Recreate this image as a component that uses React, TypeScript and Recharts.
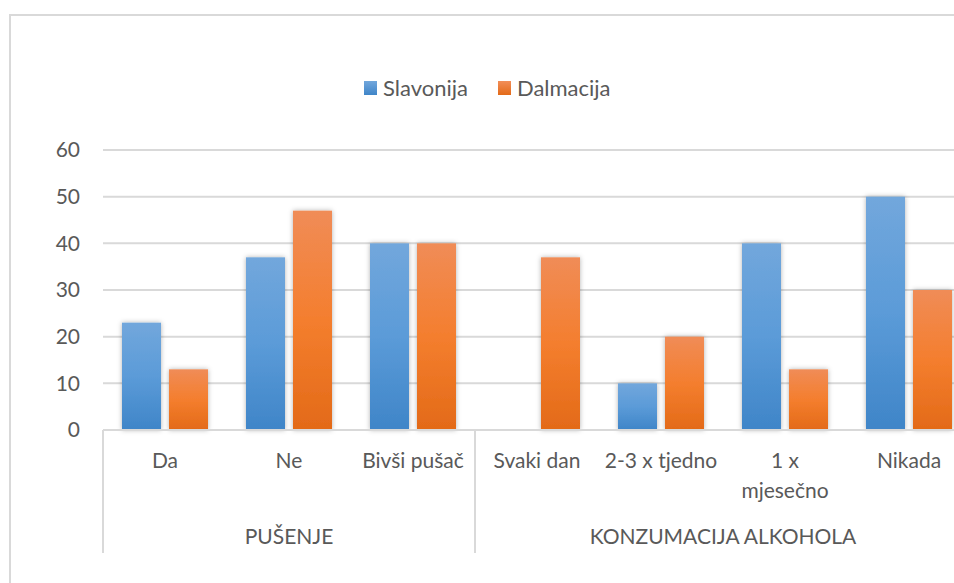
import { Bar, BarChart, CartesianGrid, XAxis, YAxis } from 'recharts'

const categories = ['Da', 'Ne', 'Bivši pušač', 'Svaki dan', '2-3 x tjedno', '1 x mjesečno', 'Nikada']
const tickLabels = ['Da', 'Ne', 'Bivši pušač', 'Svaki dan', '2-3 x tjedno', '1 x\nmjesečno', 'Nikada']
const groups = [
  'PUŠENJE',
  'PUŠENJE',
  'PUŠENJE',
  'KONZUMACIJA ALKOHOLA',
  'KONZUMACIJA ALKOHOLA',
  'KONZUMACIJA ALKOHOLA',
  'KONZUMACIJA ALKOHOLA',
]
const slavonija = [23, 37, 40, 0, 10, 40, 50]
const dalmacija = [13, 47, 40, 37, 20, 13, 30]
const yTicks = [0, 10, 20, 30, 40, 50, 60]

const chartData = categories.map((name, i) => ({
  name,
  Slavonija: slavonija[i],
  Dalmacija: dalmacija[i],
}))

const FONT = 'Lato, "Open Sans", sans-serif'
const TEXT = '#595959'
const GRID = '#d9d9d9'
const CHART_W = 1000
const PLOT_LEFT = 103
const PLOT_RIGHT = 971
const BAND = (PLOT_RIGHT - PLOT_LEFT) / categories.length

function CategoryTick(props: any) {
  const { x, y, index } = props
  const lines = tickLabels[index].split('\n')
  const left = x - BAND / 2
  const first = groups.indexOf(groups[index])
  const last = groups.lastIndexOf(groups[index])
  const groupCenter = left - (index - first) * BAND + ((last - first + 1) * BAND) / 2
  return (
    <g>
      {lines.map((line, i) => (
        <text
          key={i}
          x={x}
          y={y + 38 + i * 30}
          textAnchor="middle"
          fontFamily={FONT}
          fontSize={21}
          fill={TEXT}
        >
          {line}
        </text>
      ))}
      {index === first && (
        <>
          <line x1={left} x2={left} y1={y} y2={y + 123} stroke={GRID} strokeWidth={2} />
          <text
            x={groupCenter}
            y={y + 114}
            textAnchor="middle"
            fontFamily={FONT}
            fontSize={21}
            fill={TEXT}
          >
            {groups[index]}
          </text>
        </>
      )}
      {index === last && (
        <line x1={left + BAND} x2={left + BAND} y1={y} y2={y + 123} stroke={GRID} strokeWidth={2} />
      )}
    </g>
  )
}

function BarShape(props: any) {
  const { x, y, width, height, fill } = props
  if (!height || height <= 0) return null
  return <rect x={x} y={y} width={width} height={height} fill={fill} filter="url(#barShadow)" />
}

function LegendItem({ label, from, to }: { label: string; from: string; to: string }) {
  return (
    <div style={{ display: 'flex', alignItems: 'center', marginRight: 30 }}>
      <span
        style={{
          display: 'inline-block',
          width: 13,
          height: 14,
          background: `linear-gradient(${from}, ${to})`,
          marginRight: 6,
        }}
      />
      <span>{label}</span>
    </div>
  )
}

export default function App() {
  return (
    <div
      style={{
        position: 'fixed',
        left: 0,
        top: 0,
        width: 954,
        height: 583,
        overflow: 'hidden',
        background: '#fff',
        fontFamily: FONT,
      }}
    >
      <div
        style={{
          position: 'absolute',
          left: 9,
          top: 14,
          width: 1200,
          height: 1000,
          borderLeft: `2px solid ${GRID}`,
          borderTop: `2px solid ${GRID}`,
        }}
      />
      <div
        style={{
          position: 'absolute',
          left: 364,
          top: 75,
          display: 'flex',
          fontSize: 22,
          color: TEXT,
          lineHeight: '26px',
        }}
      >
        <LegendItem label="Slavonija" from="#72a7dc" to="#3f85c8" />
        <LegendItem label="Dalmacija" from="#f28e58" to="#e36a18" />
      </div>
      <div style={{ position: 'absolute', left: 0, top: 0 }}>
        <BarChart
          width={CHART_W}
          height={583}
          data={chartData}
          margin={{ top: 150, right: CHART_W - PLOT_RIGHT, bottom: 0, left: 0 }}
          barCategoryGap={19}
          barGap={8}
        >
          <defs>
            <linearGradient id="blueGrad" x1="0" y1="0" x2="0" y2="1">
              <stop offset="0%" stopColor="#72a7dc" />
              <stop offset="50%" stopColor="#5b9bd8" />
              <stop offset="100%" stopColor="#3f85c8" />
            </linearGradient>
            <linearGradient id="orangeGrad" x1="0" y1="0" x2="0" y2="1">
              <stop offset="0%" stopColor="#f08c57" />
              <stop offset="50%" stopColor="#f47e2e" />
              <stop offset="100%" stopColor="#e36a18" />
            </linearGradient>
            <filter id="barShadow" x="-30%" y="-10%" width="160%" height="120%">
              <feDropShadow dx="0" dy="0" stdDeviation="2.5" floodColor="#000" floodOpacity="0.3" />
            </filter>
          </defs>
          <CartesianGrid vertical={false} stroke={GRID} strokeWidth={2} />
          <XAxis
            dataKey="name"
            height={583 - 150 - 280}
            interval={0}
            axisLine={{ stroke: GRID, strokeWidth: 2 }}
            tickLine={false}
            tickSize={0}
            tickMargin={0}
            tick={<CategoryTick />}
          />
          <YAxis
            width={PLOT_LEFT}
            domain={[0, 60]}
            ticks={yTicks}
            axisLine={false}
            tickLine={false}
            tickSize={0}
            tickMargin={23}
            tick={{ fontFamily: FONT, fontSize: 21, fill: TEXT }}
          />
          <Bar dataKey="Slavonija" fill="url(#blueGrad)" shape={<BarShape />} isAnimationActive={false} />
          <Bar dataKey="Dalmacija" fill="url(#orangeGrad)" shape={<BarShape />} isAnimationActive={false} />
        </BarChart>
      </div>
    </div>
  )
}
